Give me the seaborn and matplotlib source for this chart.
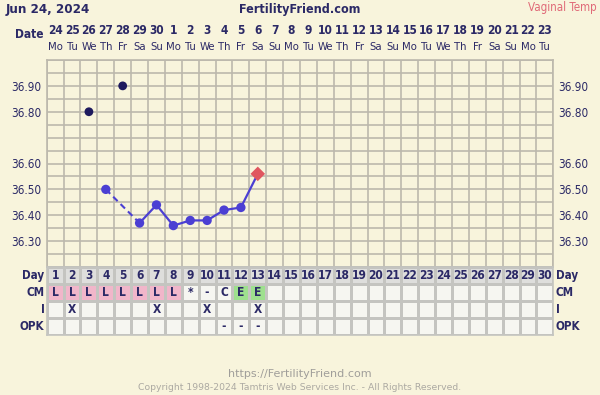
import numpy as np
import pandas as pd
import matplotlib
matplotlib.use("Agg")
import matplotlib.pyplot as plt
from matplotlib.colors import ListedColormap
import seaborn as sns

# ---------------- data ----------------
cycle_days = list(range(1, 31))
date_nums = [24, 25, 26, 27, 28, 29, 30] + list(range(1, 24))
weekdays = (["Mo", "Tu", "We", "Th", "Fr", "Sa", "Su"] * 5)[:30]

# charted temperatures (blue series)
temp_days = [4, 6, 7, 8, 9, 10, 11, 12, 13]
temps = [36.50, 36.37, 36.44, 36.36, 36.38, 36.38, 36.42, 36.43, 36.56]
# discarded temperatures (dark dots)
disc_days = [3, 5]
disc_temps = [36.80, 36.90]

cm_labels = ["L"] * 8 + ["*", "-", "C", "E", "E"] + [""] * 17
cm_colors = ["pink"] * 8 + ["none"] * 3 + ["green"] * 2 + ["none"] * 17
i_labels = ["", "X", "", "", "", "", "X", "", "", "X", "", "", "X"] + [""] * 17
opk_labels = [""] * 10 + ["-", "-", "-"] + [""] * 17

row_names = ["Day", "CM", "I", "OPK"]
ytick_vals = [36.30, 36.40, 36.50, 36.60, 36.80, 36.90]

# ---------------- style ----------------
BG = "#F8F4DC"
GRID = "#BCB8AC"
NAVY = "#2B2966"
DOT = "#1E1A5E"
BLUE = "#4B3FD3"
RED = "#E0565F"

plt.rcParams["font.family"] = ["DejaVu Sans"]
plt.rcParams["font.stretch"] = "condensed"

W, H = 600, 395
fig = plt.figure(figsize=(6.0, 3.95), dpi=100, facecolor=BG)

def fx(x):
    return x / W

def fy(y):
    return 1 - y / H

L, R = 46.7, 553.3
top, bot = 60, 267
ax = fig.add_axes([fx(L), fy(bot), (R - L) / W, (bot - top) / H])
ax.set_facecolor(BG)

ax.set_xlim(0.5, 30.5)
ax.set_ylim(36.20, 37.00)
ax.set_xticks(np.arange(0.5, 31, 1.0), minor=True)
ax.set_xticks([])
ax.set_yticks(np.round(np.arange(36.20, 37.001, 0.05), 2), minor=True)
ax.set_yticks(ytick_vals)
ax.set_yticklabels([f"{v:.2f}" for v in ytick_vals])
ax.grid(True, which="both", color=GRID, linewidth=1.2)
ax.tick_params(which="both", length=0)
ax.tick_params(axis="y", labelleft=True, labelright=True, labelsize=8.5,
               labelcolor=NAVY, pad=3.5)
for s in ax.spines.values():
    s.set_color(GRID)
    s.set_linewidth(1.2)
ax.set_axisbelow(True)

# dashed connection across the gap
sns.lineplot(x=temp_days[:2], y=temps[:2], ax=ax, color=BLUE, linewidth=1.5,
             linestyle=(0, (3, 2)), zorder=3)
sns.lineplot(x=temp_days[1:], y=temps[1:], ax=ax, color=BLUE, linewidth=1.6,
             zorder=3)
sns.scatterplot(x=temp_days[:-1], y=temps[:-1], ax=ax, color=BLUE, s=45,
                edgecolor="none", zorder=4)
sns.scatterplot(x=temp_days[-1:], y=temps[-1:], ax=ax, color=RED, s=55,
                marker="D", edgecolor="none", zorder=4)
sns.scatterplot(x=disc_days, y=disc_temps, ax=ax, color=DOT, s=40,
                edgecolor="none", zorder=4)
ax.set_xlabel("")
ax.set_ylabel("")

# date header
xt = ax.get_xaxis_transform()
for d, n, w in zip(cycle_days, date_nums, weekdays):
    ax.text(d, 1 + (60 - 30.5) / (bot - top), str(n), transform=xt,
            ha="center", va="center", fontsize=8.6, fontweight="bold",
            color=NAVY)
    ax.text(d, 1 + (60 - 46.5) / (bot - top), w, transform=xt,
            ha="center", va="center", fontsize=8.1, color=NAVY)

# ---------------- table ----------------
ttop, tbot = 267, 335
tax = fig.add_axes([fx(L), fy(tbot), (R - L) / W, (tbot - ttop) / H])
code = {"none": 1, "pink": 2, "green": 3}
mat = np.array([
    [0] * 30,
    [code[c] for c in cm_colors],
    [1] * 30,
    [1] * 30,
])
annot = np.array([
    [str(d) for d in cycle_days],
    cm_labels,
    i_labels,
    opk_labels,
], dtype=object)
cmap = ListedColormap(["#DEDEDC", "#F6F6F1", "#F1B6CA", "#9EE08E"])
sns.heatmap(pd.DataFrame(mat, index=row_names, columns=cycle_days), ax=tax,
            cmap=cmap, vmin=-0.5, vmax=3.5, cbar=False, annot=annot, fmt="",
            annot_kws={"fontsize": 8.6, "fontweight": "bold", "color": NAVY},
            linewidths=1.0, linecolor="#C4C4C0")
tax.set_xticks([])
tax.set_yticks([])
tax.set_xlabel("")
tax.set_ylabel("")
for s in tax.spines.values():
    s.set_visible(True)
    s.set_color("#C4C4C0")
    s.set_linewidth(1.2)
for t in tax.texts:
    t.set_color(NAVY)

for i, name in enumerate(row_names):
    yy = ttop + (i + 0.5) * (tbot - ttop) / 4
    fig.text(fx(44.5), fy(yy), name, ha="right", va="center", fontsize=8.4,
             fontweight="bold", color=NAVY)
    fig.text(fx(556), fy(yy), name, ha="left", va="center", fontsize=8.4,
             fontweight="bold", color=NAVY)

# ---------------- header / footer ----------------
fig.text(fx(6), fy(9), "Jun 24, 2024", ha="left", va="center", fontsize=9.5,
         fontweight="bold", color=NAVY)
fig.text(fx(300), fy(9), "FertilityFriend.com", ha="center", va="center",
         fontsize=9, fontweight="bold", color=NAVY)
fig.text(fx(597), fy(8), "Vaginal Temp", ha="right", va="center",
         fontsize=8.3, color="#E06A78")
fig.text(fx(43), fy(34), "Date", ha="right", va="center", fontsize=8.6,
         fontweight="bold", color=NAVY)
fig.text(fx(300), fy(374), "https://FertilityFriend.com", ha="center",
         va="center", fontsize=8, fontstretch="normal", color="#A09E9A")
fig.text(fx(300), fy(387), "Copyright 1998-2024 Tamtris Web Services Inc. - All Rights Reserved.",
         ha="center", va="center", fontsize=6.7, fontstretch="normal",
         color="#ACA9A2")

fig.savefig("out.png", dpi=100, facecolor=BG)
